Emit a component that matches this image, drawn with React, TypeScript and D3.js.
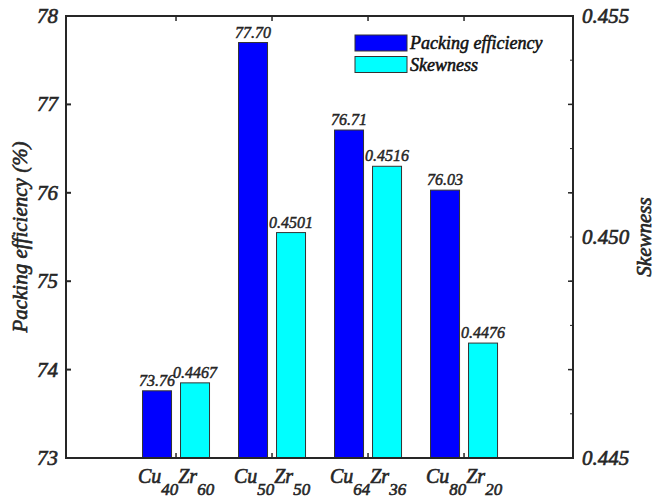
import * as d3 from 'd3';

const alloys = [
  { cu: '40', zr: '60' },
  { cu: '50', zr: '50' },
  { cu: '64', zr: '36' },
  { cu: '80', zr: '20' },
];
const packing = [73.76, 77.7, 76.71, 76.03];
const skewness = [0.4467, 0.4501, 0.4516, 0.4476];
const leftTicks = [73, 74, 75, 76, 77, 78];
const rightTicks = [0.445, 0.446, 0.447, 0.448, 0.449, 0.45, 0.451, 0.452, 0.453, 0.454, 0.455];
const rightLabels = [0.445, 0.45, 0.455];
const legendItems = [
  { name: 'Packing efficiency', color: '#0000ff' },
  { name: 'Skewness', color: '#00ffff' },
];

const width = 658;
const height = 498;
const left = 66, right = 573, top = 16, bottom = 458;
const axisColor = '#262626';
const textColor = '#262626';
const barW = 29;
const off = 19;

const x = d3.scaleLinear().domain([-0.146, 5.135]).range([left, right]);
const y = d3.scaleLinear().domain([73, 78]).range([bottom, top]);
const y2 = d3.scaleLinear().domain([0.445, 0.455]).range([bottom, top]);

// bold italic Times look: italic serif plus a thin stroke
const txt = (size: number, color = textColor) => ({
  fontFamily: 'Liberation Serif',
  fontSize: size,
  fontStyle: 'italic',
  fill: color,
  stroke: color,
  strokeWidth: size * 0.03,
});

export default function App() {
  return (
    <div style={{ position: 'absolute', left: 0, top: 0 }}>
      <svg width={width} height={height} style={{ display: 'block' }}>
        {/* bars */}
        {packing.map((d, i) => (
          <rect key={'p' + i} x={x(i + 1) - off - barW / 2} y={y(d)} width={barW}
            height={bottom - y(d)} fill="#0000ff" stroke="#333" strokeWidth={1} />
        ))}
        {skewness.map((d, i) => (
          <rect key={'s' + i} x={x(i + 1) + off - barW / 2} y={y2(d)} width={barW}
            height={bottom - y2(d)} fill="#00ffff" stroke="#333" strokeWidth={1} />
        ))}

        {/* value labels */}
        {packing.map((d, i) => (
          <text key={'lp' + i} x={x(i + 1) - off} y={y(d) - 5} textAnchor="middle" {...txt(16)}>
            {d.toFixed(2)}
          </text>
        ))}
        {skewness.map((d, i) => (
          <text key={'ls' + i} x={x(i + 1) + off} y={y2(d) - 5} textAnchor="middle" {...txt(16)}>
            {d.toFixed(4)}
          </text>
        ))}

        {/* box */}
        <rect x={left} y={top} width={right - left} height={bottom - top}
          fill="none" stroke={axisColor} strokeWidth={2} />

        {/* left axis ticks, mirrored on the right side */}
        {leftTicks.map(t => (
          <g key={'lt' + t}>
            <line x1={left} x2={left + 5} y1={y(t)} y2={y(t)} stroke={axisColor} strokeWidth={2} />
            <line x1={right} x2={right - 5} y1={y(t)} y2={y(t)} stroke={axisColor} strokeWidth={1.5} />
            <text x={left - 8} y={y(t) + 7} textAnchor="end" {...txt(21)}>{t}</text>
          </g>
        ))}

        {/* right axis */}
        {rightTicks.map(t => (
          <line key={'rt' + t} x1={right} x2={right - 3} y1={y2(t)} y2={y2(t)}
            stroke={axisColor} strokeWidth={1} />
        ))}
        {rightLabels.map(t => (
          <text key={'rl' + t} x={right + 9} y={y2(t) + 7} {...txt(21)}>
            {d3.format('.3f')(t)}
          </text>
        ))}

        {/* x ticks and labels */}
        {alloys.map((a, i) => {
          const cx = x(i + 1);
          return (
            <g key={'x' + i}>
              <line x1={cx} x2={cx} y1={bottom} y2={bottom - 5} stroke={axisColor} strokeWidth={1.5} />
              <line x1={cx} x2={cx} y1={top} y2={top + 5} stroke={axisColor} strokeWidth={1.5} />
              <text x={cx} y={483} textAnchor="middle" {...txt(20)}>
                <tspan>Cu</tspan>
                <tspan dy={12} fontSize={17}>{a.cu}</tspan>
                <tspan dy={-12}>Zr</tspan>
                <tspan dy={12} fontSize={17}>{a.zr}</tspan>
              </text>
            </g>
          );
        })}

        {/* axis titles */}
        <text transform={`translate(27,${(top + bottom) / 2}) rotate(-90)`} textAnchor="middle" {...txt(21)}>
          Packing efficiency (%)
        </text>
        <text transform={`translate(651,${(top + bottom) / 2}) rotate(-90)`} textAnchor="middle" {...txt(21)}>
          Skewness
        </text>

        {/* legend */}
        {legendItems.map((l, i) => {
          const ly = 35 + i * 21.5;
          return (
            <g key={l.name}>
              <rect x={355} y={ly} width={52} height={16} fill={l.color} stroke="#333" strokeWidth={1} />
              <text x={410} y={ly + 14} {...txt(18, '#111')}>{l.name}</text>
            </g>
          );
        })}
      </svg>
    </div>
  );
}
